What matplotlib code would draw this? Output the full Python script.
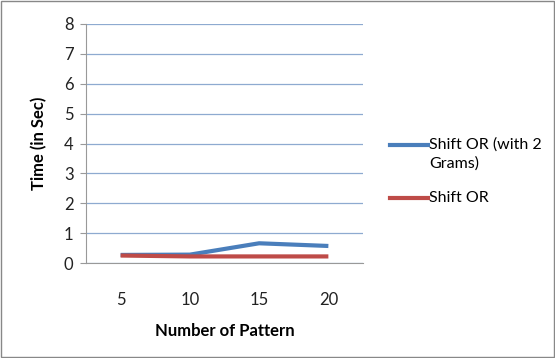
import matplotlib.pyplot as plt
from matplotlib.lines import Line2D
from matplotlib.patches import Rectangle

patterns = ["5", "10", "15", "20"]
shift_or_2grams = [0.27, 0.28, 0.66, 0.57]
shift_or = [0.25, 0.22, 0.22, 0.22]

plt.rcParams['font.family'] = ['Lato', 'DejaVu Sans']

fig = plt.figure(figsize=(5.55, 3.58), dpi=100)
ax = fig.add_axes([86 / 555, 1 - 263 / 358, 277 / 555, 239 / 358])

xs = [i + 0.5 for i in range(len(patterns))]
ax.plot(xs, shift_or_2grams, color='#4a7ebb', lw=3, solid_capstyle='butt')
ax.plot(xs, shift_or, color='#be4b48', lw=3, solid_capstyle='butt')

ax.set_xlim(0, 4)
ax.set_ylim(0, 8)
ax.set_yticks(range(0, 9))
ax.set_xticks(xs)
ax.set_xticklabels(patterns)
ax.yaxis.grid(True, color='#8eaad0', lw=0.9)
ax.set_axisbelow(True)
for s in ['top', 'right']:
    ax.spines[s].set_visible(False)
ax.spines['left'].set_color('#999999')
ax.spines['bottom'].set_color('#999999')
ax.tick_params(axis='y', length=4, color='#999999', labelsize=12, pad=5, labelcolor='#222222')
ax.tick_params(axis='x', length=0, labelsize=12, pad=21, labelcolor='#222222')

ax.set_xlabel("Number of Pattern", fontsize=12, fontweight='bold', labelpad=11)
ax.set_ylabel("Time (in Sec)", fontsize=12, fontweight='bold', labelpad=12)

# legend drawn by hand to keep the handle on the first text line
fig.add_artist(Line2D([390 / 555, 428 / 555], [1 - 145 / 358] * 2, color='#4a7ebb', lw=3))
fig.text(429 / 555, 1 - 145 / 358, "Shift OR (with 2", fontsize=11.5, va='center')
fig.text(429 / 555, 1 - 164 / 358, "Grams)", fontsize=11.5, va='center')
fig.add_artist(Line2D([390 / 555, 428 / 555], [1 - 198 / 358] * 2, color='#be4b48', lw=3))
fig.text(429 / 555, 1 - 198 / 358, "Shift OR", fontsize=11.5, va='center')

fig.add_artist(Rectangle((0.001, 0.002), 0.997, 0.995, transform=fig.transFigure,
                         fill=False, edgecolor='#888888', lw=1))

fig.savefig("out.png", dpi=100)
